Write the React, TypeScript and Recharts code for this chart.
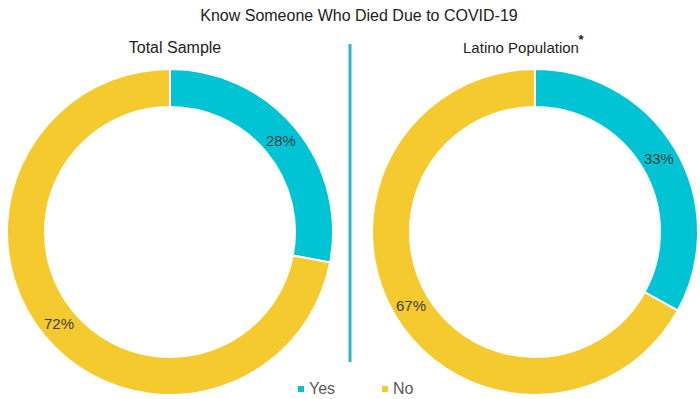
import { PieChart, Pie, Cell } from "recharts"

const categories = ["Yes", "No"]
const totalSample = [28, 72]
const latinoPopulation = [33, 67]
const colors = ["#00C4D4", "#F5CA2E"]

const totalData = categories.map((name, i) => ({ name, value: totalSample[i] }))
const latinoData = categories.map((name, i) => ({ name, value: latinoPopulation[i] }))

const RADIAN = Math.PI / 180

const renderLabel = (props: any) => {
  const { cx, cy, midAngle, innerRadius, outerRadius, value } = props
  const r = (innerRadius + outerRadius) / 2
  const x = cx + r * Math.cos(-midAngle * RADIAN)
  const y = cy + r * Math.sin(-midAngle * RADIAN)
  return (
    <text
      x={x}
      y={y}
      fill="#404040"
      fontSize={15}
      textAnchor="middle"
      dominantBaseline="central"
      fontFamily="Liberation Sans, Arial, sans-serif"
    >
      {`${value}%`}
    </text>
  )
}

const font = "Liberation Sans, Arial, sans-serif"

export default function App() {
  return (
    <div style={{ position: "absolute", left: 0, top: 0, width: 700, height: 399, background: "#fff", overflow: "hidden", fontFamily: font }}>
      <PieChart width={700} height={399}>
        <Pie
          data={totalData}
          dataKey="value"
          cx={165}
          cy={227}
          innerRadius={125}
          outerRadius={163}
          startAngle={90}
          endAngle={-270}
          stroke="#fff"
          strokeWidth={2}
          label={renderLabel}
          labelLine={false}
          isAnimationActive={false}
        >
          {totalData.map((d, i) => (
            <Cell key={d.name} fill={colors[i]} />
          ))}
        </Pie>
        <Pie
          data={latinoData}
          dataKey="value"
          cx={530}
          cy={227}
          innerRadius={125}
          outerRadius={163}
          startAngle={90}
          endAngle={-270}
          stroke="#fff"
          strokeWidth={2}
          label={renderLabel}
          labelLine={false}
          isAnimationActive={false}
        >
          {latinoData.map((d, i) => (
            <Cell key={d.name} fill={colors[i]} />
          ))}
        </Pie>
      </PieChart>
      <svg width={700} height={399} style={{ position: "absolute", left: 0, top: 0, pointerEvents: "none" }}>
        <text x={359} y={21} textAnchor="middle" fontSize={16} fill="#222" fontFamily={font}>
          Know Someone Who Died Due to COVID-19
        </text>
        <text x={175} y={53} textAnchor="middle" fontSize={16} fill="#222" fontFamily={font}>
          Total Sample
        </text>
        <text x={521} y={53} textAnchor="middle" fontSize={15} fill="#222" fontFamily={font}>
          Latino Population
        </text>
        <text x={581} y={44} textAnchor="middle" fontSize={13} fontWeight="bold" fill="#222" fontFamily={font}>
          *
        </text>
        <line x1={350} y1={44} x2={350} y2={362} stroke="#2BB9C9" strokeWidth={3} />
        {categories.map((c, i) => (
          <g key={c}>
            <rect x={i === 0 ? 298 : 382} y={386} width={6} height={6} fill={colors[i]} />
            <text x={i === 0 ? 309 : 393} y={394} fontSize={16} fill="#595959" fontFamily={font}>
              {c}
            </text>
          </g>
        ))}
      </svg>
    </div>
  )
}
